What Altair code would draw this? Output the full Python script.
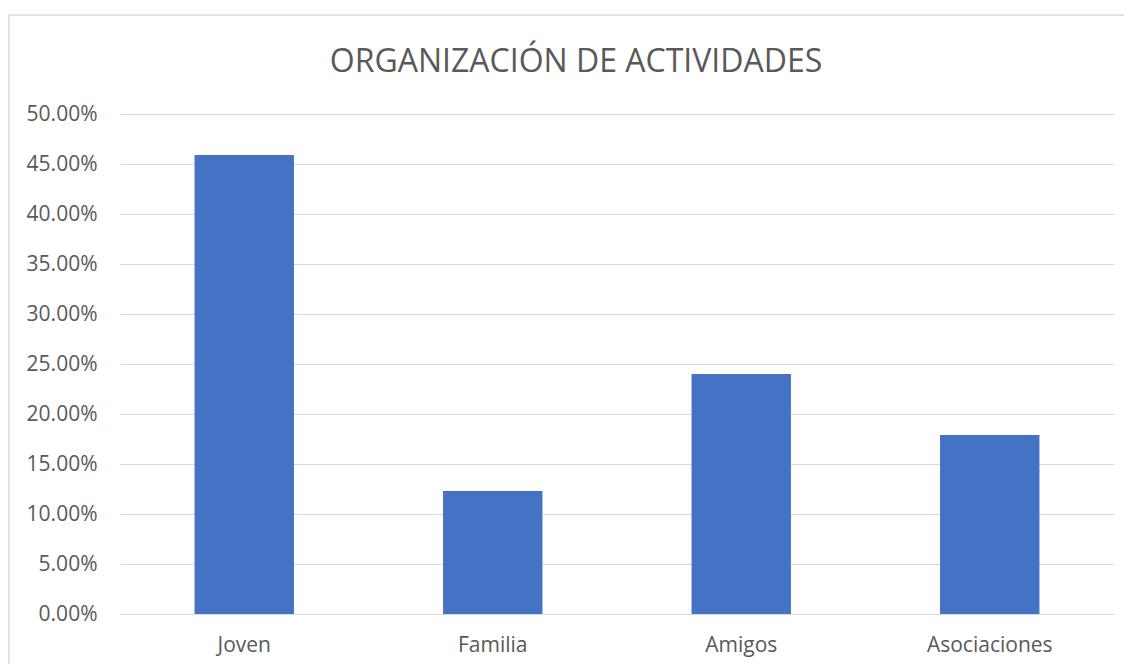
import altair as alt
import pandas as pd

title_text = "ORGANIZACIÓN DE ACTIVIDADES"
categories = ["Joven", "Familia", "Amigos", "Asociaciones"]
values = [0.459, 0.123, 0.240, 0.179]
y_ticks = [0.0, 0.05, 0.10, 0.15, 0.20, 0.25, 0.30, 0.35, 0.40, 0.45, 0.50]

df = pd.DataFrame({"categoria": categories, "valor": values})

FONT = "Open Sans"
TXT = "#595959"

bars = alt.Chart(df).mark_bar(color="#4472C4").encode(
    x=alt.X(
        "categoria:N",
        sort=categories,
        scale=alt.Scale(paddingInner=0.6, paddingOuter=0.3),
        axis=alt.Axis(
            title=None, labelAngle=0, ticks=False, domain=False,
            labelPadding=20, labelFontSize=21, labelFont=FONT, labelColor=TXT,
        ),
    ),
    y=alt.Y(
        "valor:Q",
        scale=alt.Scale(domain=[0, 0.5], nice=False),
        axis=alt.Axis(
            title=None, values=y_ticks, format=".2%", ticks=False, domain=False,
            labelPadding=23, labelFontSize=21, labelFont=FONT, labelColor=TXT,
            grid=True, gridColor="#D9D9D9", gridWidth=1,
        ),
    ),
)

single = pd.DataFrame({"t": [title_text]})

border = alt.Chart(single).mark_rect(
    fill=None, stroke="#D9D9D9", strokeWidth=1.5
).encode(
    x=alt.value(-111), x2=alt.value(1030), y=alt.value(-99), y2=alt.value(580)
)

title = alt.Chart(single).mark_text(
    font=FONT, fontSize=32, color=TXT, align="center", baseline="alphabetic"
).encode(
    x=alt.value(456), y=alt.value(-42), text="t:N"
)

chart = alt.layer(border, bars, title).properties(
    width=994,
    height=500,
    autosize=alt.AutoSizeParams(type="none"),
    padding={"left": 112, "top": 106, "right": 10, "bottom": 50},
).configure_view(stroke=None)

chart.save("out.html", embed_options={"renderer": "svg", "actions": False})
